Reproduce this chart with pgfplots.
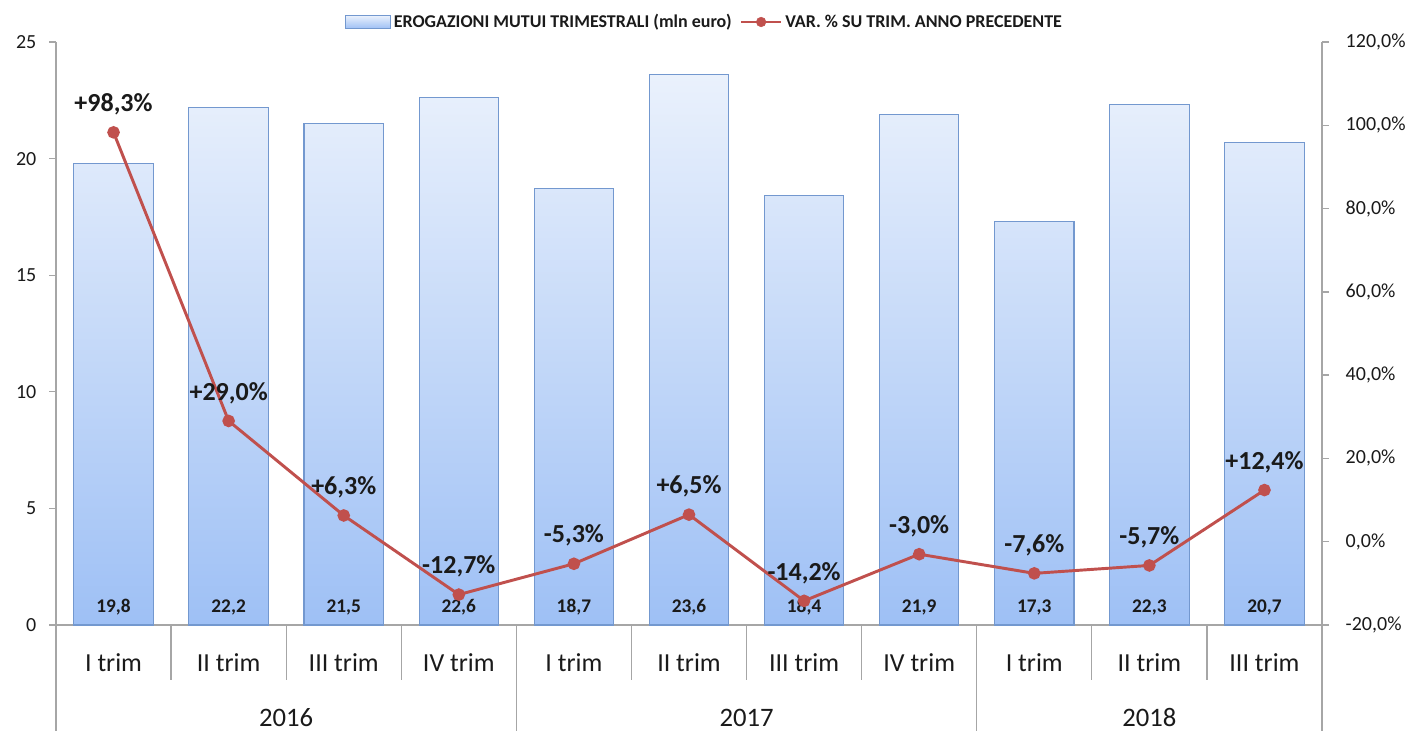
\documentclass[border=0pt]{standalone}
\usepackage{fontspec}
\setmainfont{Carlito}
\usepackage{pgfplots}
\pgfplotsset{compat=1.18}
\definecolor{barTop}{HTML}{EAF1FC}
\definecolor{barBot}{HTML}{9EC0F5}
\definecolor{barEdge}{HTML}{7398CF}
\definecolor{lineRed}{HTML}{C0504D}
\definecolor{axGray}{HTML}{A6A6A6}
\definecolor{txt}{HTML}{1A1A1A}
\begin{document}
\begin{tikzpicture}
\useasboundingbox (0,0) rectangle (1057.5pt,548.25pt);
\begin{axis}[
  at={(42pt,79.5pt)}, anchor=south west,
  scale only axis, width=949.5pt, height=437.25pt,
  xmin=-0.5, xmax=10.5, ymin=0, ymax=25,
  ytick={0,5,...,25},
  xtick={0,...,10},
  xticklabels={I trim, II trim, III trim, IV trim, I trim, II trim, III trim, IV trim, I trim, II trim, III trim},
  axis y line*=left, axis x line*=bottom,
  axis line style={axGray, line width=1pt},
  tick align=outside, major tick length=5.25pt,
  ytick style={axGray, line width=1pt},
  xtick style={draw=none},
  /pgf/number format/assume math mode=true,
  yticklabel style={font=\fontsize{15}{16}\selectfont, text=txt, xshift=-6pt},
  xticklabel style={font=\fontsize{19.5}{21}\selectfont, text=txt, anchor=base, yshift=-30pt},
  clip=false,
  ybar, bar width=0.69,
  legend style={at={(0.5,1)}, anchor=center, yshift=15pt, xshift=12pt, draw=none, fill=none,
    font=\bfseries\fontsize{13.5}{14}\selectfont, text=txt, legend columns=2,
    /tikz/every even column/.append style={column sep=4pt}},
  legend cell align=left,
]
\addplot[draw=barEdge, line width=0.8pt, top color=barTop, bottom color=barBot,
  visualization depends on={y \as \rawy},
  nodes near coords={\pgfmathprintnumber[fixed,fixed zerofill,precision=1,use comma]{\pgfplotspointmeta}},
  every node near coord/.append style={font=\bfseries\fontsize{14.5}{16}\selectfont, text=txt, anchor=center,
    shift={(axis direction cs:0,-\rawy)}, yshift=13.5pt},
  legend image code/.code={\draw[draw=barEdge, line width=0.6pt, top color=barTop, bottom color=barBot] (0pt,-4.9pt) rectangle (33.75pt,4.9pt);}
] coordinates {(0,19.8) (1,22.2) (2,21.5) (3,22.6) (4,18.7) (5,23.6) (6,18.4) (7,21.9) (8,17.3) (9,22.3) (10,20.7)};
\addlegendentry{EROGAZIONI MUTUI TRIMESTRALI (mln euro)}
\addlegendimage{legend image code/.code={\draw[lineRed, line width=2.2pt] (0pt,0pt) -- (30pt,0pt); \fill[lineRed] (15pt,0pt) circle (3.6pt);}}
\addlegendentry{VAR. \% SU TRIM. ANNO PRECEDENTE}
% separators
\foreach \xx in {0.5,1.5,2.5,4.5,5.5,6.5,8.5,9.5} {
  \edef\tmp{\noexpand\draw[axGray, line width=1pt] (axis cs:\xx,0) -- ++(0pt,-41.25pt);}\tmp
}
\foreach \xx in {-0.5,3.5,7.5,10.5} {
  \edef\tmp{\noexpand\draw[axGray, line width=1pt] (axis cs:\xx,0) -- ++(0pt,-79.5pt);}\tmp
}
\node[anchor=base, font=\fontsize{20}{22}\selectfont, text=txt] at ([yshift=-76.5pt]axis cs:1.5,0) {2016};
\node[anchor=base, font=\fontsize{20}{22}\selectfont, text=txt] at ([yshift=-76.5pt]axis cs:5.5,0) {2017};
\node[anchor=base, font=\fontsize{20}{22}\selectfont, text=txt] at ([yshift=-76.5pt]axis cs:9,0) {2018};
\end{axis}
\begin{axis}[
  at={(42pt,79.5pt)}, anchor=south west,
  scale only axis, width=949.5pt, height=437.25pt,
  xmin=-0.5, xmax=10.5, ymin=-20, ymax=120,
  ytick={-20,0,...,120},
  axis y line*=right, hide x axis,
  axis line style={axGray, line width=1pt},
  tick align=outside, major tick length=5.25pt,
  ytick style={axGray, line width=1pt},
  /pgf/number format/assume math mode=true,
  yticklabel={\pgfmathprintnumber[fixed,fixed zerofill,precision=1,use comma]{\tick}\%},
  yticklabel style={font=\fontsize{15}{16}\selectfont, text=txt, xshift=9pt},
  clip=false,
]
\addplot[lineRed, line width=2.2pt, mark=*, mark size=3.6pt, mark options={fill=lineRed, draw=lineRed},
  point meta=explicit symbolic,
  nodes near coords={\pgfplotspointmeta},
  every node near coord/.append style={font=\bfseries\fontsize{19.5}{21}\selectfont, text=txt, anchor=center, yshift=21pt}
] coordinates {(0,98.3) [+98,3\%] (1,29.0) [+29,0\%] (2,6.3) [+6,3\%] (3,-12.7) [-12,7\%] (4,-5.3) [-5,3\%] (5,6.5) [+6,5\%] (6,-14.2) [-14,2\%] (7,-3.0) [-3,0\%] (8,-7.6) [-7,6\%] (9,-5.7) [-5,7\%] (10,12.4) [+12,4\%]};
\end{axis}
\end{tikzpicture}
\end{document}
